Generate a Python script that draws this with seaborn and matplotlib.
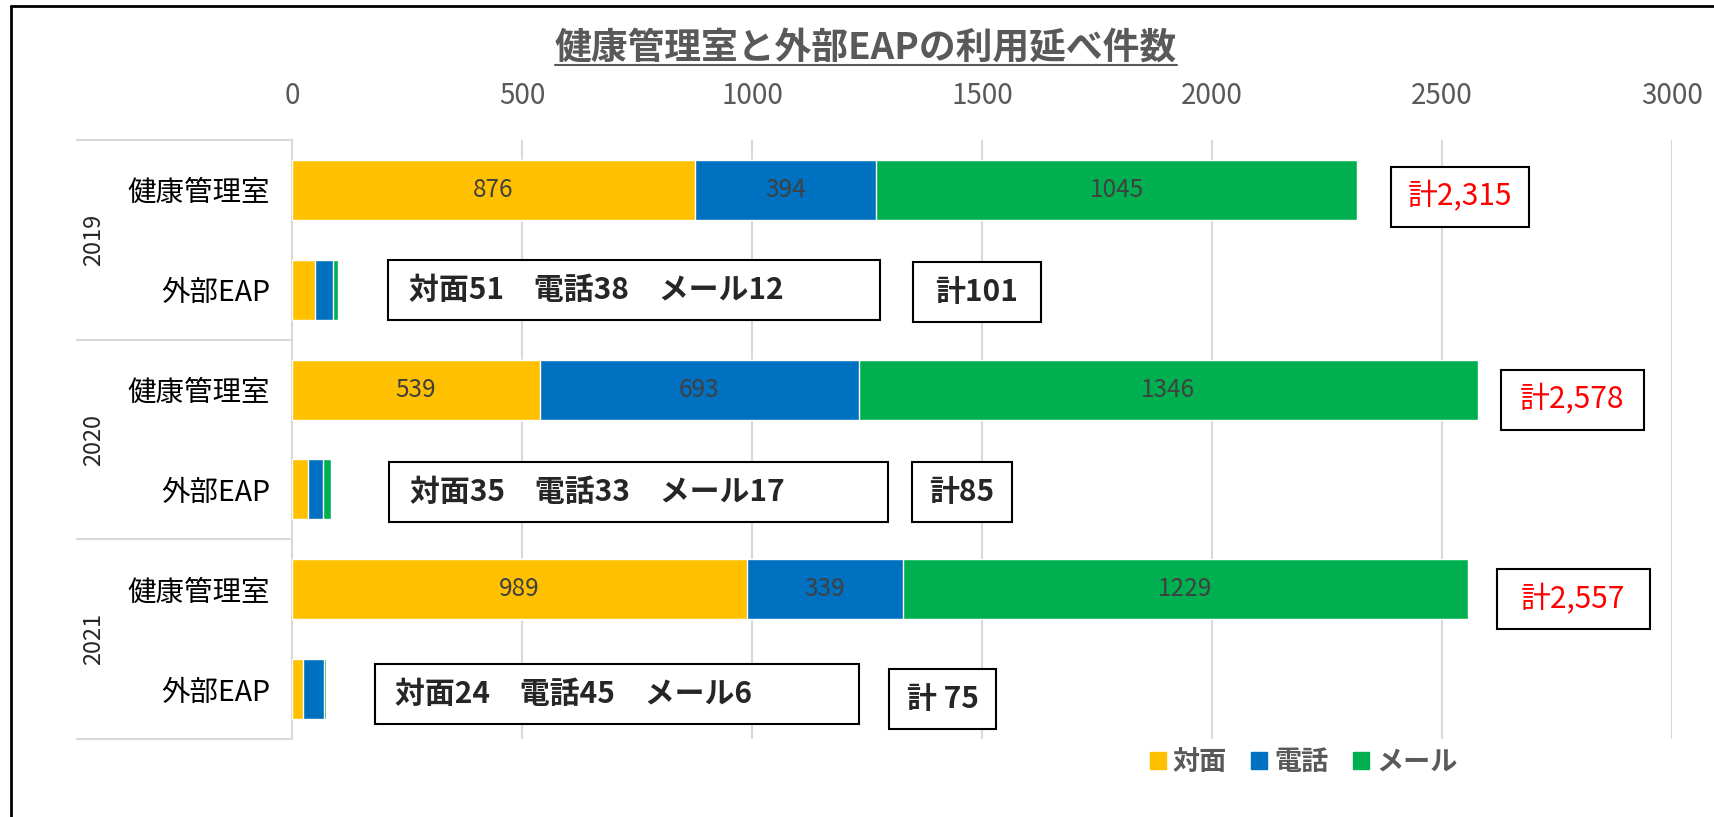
import matplotlib
matplotlib.use("Agg")
import matplotlib.pyplot as plt
import matplotlib.transforms as mtransforms
from matplotlib.lines import Line2D
from matplotlib.patches import Rectangle, Patch
import numpy as np
import pandas as pd
import seaborn as sns

# データ
years = ["2019", "2020", "2021"]
places = ["健康管理室", "外部EAP"]
methods = ["対面", "電話", "メール"]

health_face = [876, 539, 989]
health_phone = [394, 693, 339]
health_mail = [1045, 1346, 1229]

eap_face = [51, 35, 24]
eap_phone = [38, 33, 45]
eap_mail = [12, 17, 6]

colors = {"対面": "#FFC000", "電話": "#0070C0", "メール": "#00B050"}

sns.set_style("white")
plt.rcParams['font.family'] = ['Noto Sans CJK JP', 'DejaVu Sans']

# 行ごとのテーブル
rows = []
for i, y in enumerate(years):
    rows.append({"row": f"{y}-健康管理室", "対面": health_face[i], "電話": health_phone[i], "メール": health_mail[i]})
    rows.append({"row": f"{y}-外部EAP", "対面": eap_face[i], "電話": eap_phone[i], "メール": eap_mail[i]})
df = pd.DataFrame(rows)
df["c1"] = df["対面"]
df["c2"] = df["対面"] + df["電話"]
df["c3"] = df["c2"] + df["メール"]
order = list(df["row"])

fig = plt.figure(figsize=(17.15, 8.17), dpi=100)
ax = fig.add_axes([292 / 1715, 1 - 739 / 817, 1380 / 1715, 599 / 817])

# 積み上げ (合計から順に重ねる)
for col, m in [("c3", "メール"), ("c2", "電話"), ("c1", "対面")]:
    sns.barplot(data=df, x=col, y="row", order=order, orient="y", color=colors[m],
                width=0.6, saturation=1, errorbar=None, ax=ax, zorder=3)

ax.set_xlim(0, 3000)
ax.set_ylim(5.5, -0.5)
ax.set_xticks(np.arange(0, 3001, 500))
ax.xaxis.tick_top()
ax.tick_params(axis="x", length=0, pad=21, labelsize=20, labelcolor="#595959")
ax.set_yticks(range(len(order)))
ax.set_yticklabels(places * len(years))
ax.tick_params(axis="y", length=0, pad=16, labelsize=20.5, labelcolor="black")
ax.set_xlabel("")
ax.set_ylabel("")
ax.grid(axis="x", color="#D9D9D9", lw=1.5, zorder=0)
for s in ["top", "right", "bottom"]:
    ax.spines[s].set_visible(False)
ax.spines["left"].set_color("#D9D9D9")
ax.spines["left"].set_linewidth(1.5)

# 年の区切り線と年ラベル
trans = mtransforms.blended_transform_factory(ax.transAxes, ax.transData)
for b in [-0.5, 1.5, 3.5, 5.5]:
    ax.add_line(Line2D([-0.156, 0], [b, b], transform=trans, color="#D9D9D9", lw=1.5, clip_on=False))
for i, y in enumerate(years):
    ax.text(-0.144, 2 * i + 0.5, y, transform=trans, rotation=90, ha="center", va="center", fontsize=17)

# 健康管理室の値ラベル
for i in range(len(years)):
    r = df.iloc[2 * i]
    starts = [0, r["c1"], r["c2"]]
    for s, m in zip(starts, methods):
        ax.text(s + r[m] / 2, 2 * i, str(r[m]), ha="center", va="center",
                fontsize=17.5, color="#404040", zorder=4)

# 注記ボックス (x0, x1, y)
eap_boxes = [(209, 1278, 1.0), (211, 1296, 3.03), (180, 1233, 5.05)]
eap_total_boxes = [(1350, 1628, 1.02), (1348, 1565, 3.03), (1298, 1530, 5.1)]
health_total_boxes = [(2389, 2689, 0.07), (2628, 2939, 2.1), (2620, 2952, 4.1)]
total_sep = ["", "", " "]


def box(x0, x1, yc, h=0.6):
    ax.add_patch(Rectangle((x0, yc - h / 2), x1 - x0, h, facecolor="white",
                           edgecolor="black", lw=1.5, zorder=5))


for i in range(len(years)):
    x0, x1, yc = eap_boxes[i]
    box(x0, x1, yc)
    ax.text(x0 + 45, yc, f"対面{eap_face[i]}　電話{eap_phone[i]}　メール{eap_mail[i]}",
            ha="left", va="center", fontsize=21.5, fontweight="bold", zorder=6)
    x0, x1, yc = eap_total_boxes[i]
    box(x0, x1, yc)
    tot = eap_face[i] + eap_phone[i] + eap_mail[i]
    ax.text((x0 + x1) / 2, yc, f"計{total_sep[i]}{tot}", ha="center", va="center",
            fontsize=21.5, fontweight="bold", zorder=6)
    x0, x1, yc = health_total_boxes[i]
    box(x0, x1, yc)
    tot = health_face[i] + health_phone[i] + health_mail[i]
    ax.text((x0 + x1) / 2, yc, f"計{tot:,}", ha="center", va="center",
            fontsize=21.5, color="red", zorder=6)

# 凡例
handles = [Patch(color=colors[m], label=m) for m in methods]
leg = fig.legend(handles=handles, loc="center", bbox_to_anchor=(0.760, 1 - 762 / 817),
                 ncol=3, frameon=False, handlelength=0.6, handleheight=0.6,
                 handletextpad=0.25, columnspacing=0.9, prop={"size": 19.5, "weight": "bold"})
for t in leg.get_texts():
    t.set_color("#595959")

# タイトル (下線付き)
title = fig.text(0.505, 1 - 49 / 817, "健康管理室と外部EAPの利用延べ件数", ha="center", va="center",
                 fontsize=26.5, fontweight="bold", color="#595959")
fig.canvas.draw()
bb = title.get_window_extent()
inv = fig.transFigure.inverted()
(ux0, uy), (ux1, _) = inv.transform([(bb.x0, bb.y0 + 3), (bb.x1, bb.y0 + 3)])
fig.add_artist(Line2D([ux0, ux1], [uy, uy], transform=fig.transFigure, color="#595959", lw=1.5))

# 外枠 (左と上)
fig.add_artist(Line2D([11 / 1715, 11 / 1715], [0, 1 - 6 / 817], transform=fig.transFigure, color="black", lw=2))
fig.add_artist(Line2D([11 / 1715, 1], [1 - 6 / 817, 1 - 6 / 817], transform=fig.transFigure, color="black", lw=2))

fig.savefig("out.png", dpi=100)
